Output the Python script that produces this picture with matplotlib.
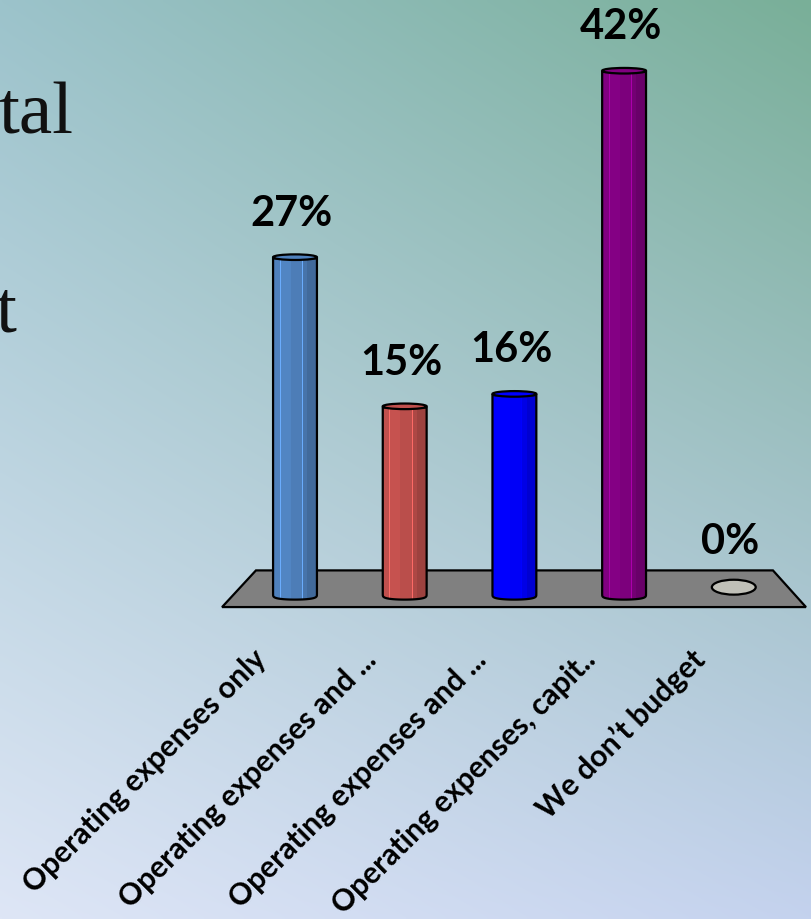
import numpy as np
import matplotlib.pyplot as plt
from matplotlib.patches import Polygon, PathPatch, Ellipse, Rectangle
from matplotlib.path import Path
from matplotlib.colors import to_rgb

categories = [
    "Operating expenses only",
    "Operating expenses and ...",
    "Operating expenses and ...",
    "Operating expenses, capit..",
    "We don\u2019t budget",
]
shares = [27, 15, 16, 42, 0]
bar_colors = ["#4F81BD", "#C0504D", "#0000FF", "#800080", "#C0C0B8"]


def shade(color, k):
    return tuple(min(1.0, c * k) for c in to_rgb(color))


fig = plt.figure(figsize=(8.12, 9.19), dpi=100)

# slide background: four-corner gradient
bg = fig.add_axes([0, 0, 1, 1])
bg.axis("off")
tl, tr = np.array(to_rgb("#9CC3CB")), np.array(to_rgb("#79AF98"))
bl, br = np.array(to_rgb("#DEE6F6")), np.array(to_rgb("#C4D2EE"))
U, V = np.meshgrid(np.linspace(0, 1, 256), np.linspace(0, 1, 256))
U, V = U[..., None], V[..., None]
grad = (1 - V) * ((1 - U) * tl + U * tr) + V * ((1 - U) * bl + U * br)
bg.imshow(grad, extent=[0, 1, 0, 1], aspect="auto", origin="upper",
          interpolation="bilinear")
bg.set_xlim(0, 1)
bg.set_ylim(0, 1)

# leftover slide text running in from the left
fig.text(73 / 812, 1 - 133 / 919, "tal", ha="right", va="baseline",
         fontsize=54, family="Liberation Serif", color="#111111")
fig.text(16 / 812, 1 - 331 / 919, "t", ha="right", va="baseline",
         fontsize=54, family="Liberation Serif", color="#111111")

ax = fig.add_axes([218 / 812, 1 - 620 / 919, 594 / 812, 620 / 919])
ax.set_xlim(-0.702, 4.713)
ax.set_ylim(-2.09, 47.79)
ax.axis("off")

n = len(shares)
xs = np.arange(n)

# grey floor in perspective
floor = Polygon([(-0.665, -1.05), (n - 1 + 0.658, -1.05),
                 (n - 1 + 0.357, 1.9), (-0.356, 1.9)],
                closed=True, facecolor="#808080", edgecolor="black", lw=1.6)
ax.add_patch(floor)

w = 0.4
hw = w / 2
depth = 0.45
facets = [0.0, 0.15, 0.4, 0.66, 0.78, 1.0]
facet_k = [1.0, 1.03, 0.97, 0.9, 0.82]
label_kw = dict(fontsize=30, fontweight="bold", family="Lato",
                ha="center", va="center")

for x, v, col in zip(xs, shares, bar_colors):
    if v == 0:
        ax.add_patch(Ellipse((x, 0.55), w, 1.2, facecolor=col,
                             edgecolor="black", lw=1.6, zorder=3))
        ax.text(x - 0.03, v + 4.2, f"{v}%", **label_kw)
        continue
    t = np.linspace(0, np.pi, 40)
    arc = np.column_stack([x - hw * np.cos(t), -depth * np.sin(t) ** 0.5])
    verts = np.vstack([[(x - hw, v)], arc, [(x + hw, v)], [(x - hw, v)]])
    codes = [Path.MOVETO] + [Path.LINETO] * (len(verts) - 2) + [Path.CLOSEPOLY]
    body = PathPatch(Path(verts, codes), facecolor=col, edgecolor="none", zorder=3)
    ax.add_patch(body)
    for f0, f1, k in zip(facets[:-1], facets[1:], facet_k):
        strip = Rectangle((x - hw + f0 * w, -depth - 0.1), (f1 - f0) * w,
                          v + depth + 0.2, facecolor=shade(col, k),
                          edgecolor="none", zorder=3)
        ax.add_patch(strip)
        strip.set_clip_path(body)
    for f in (0.15, 0.66):
        ln, = ax.plot([x - hw + f * w] * 2, [-depth, v], color=shade(col, 1.35),
                      lw=0.7, zorder=3)
        ln.set_clip_path(body)
    ax.add_patch(PathPatch(Path(verts, codes), facecolor="none",
                           edgecolor="black", lw=1.6, zorder=4))
    ax.add_patch(Ellipse((x, v + 0.1), w, 0.45, facecolor=col,
                         edgecolor="black", lw=1.6, zorder=5))
    ax.text(x - 0.03, v + 3.6, f"{v}%", **label_kw)

for x, lab in zip(xs, categories):
    ax.text(x - 0.30, -4.9, lab, rotation=45, rotation_mode="anchor",
            ha="right", va="center", fontsize=21.5, fontweight="bold",
            family="Lato")

fig.savefig("out.png", dpi=100)
